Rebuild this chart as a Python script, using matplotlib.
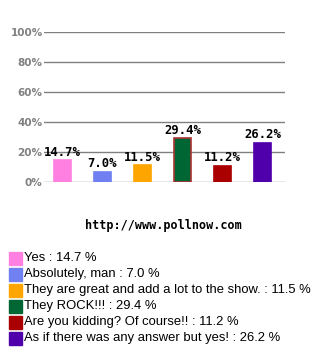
import matplotlib
matplotlib.use("Agg")
import matplotlib.pyplot as plt

answers = ['Yes', 'Absolutely, man', 'They are great and add a lot to the show.',
           'They ROCK!!!', 'Are you kidding? Of course!!', 'As if there was any answer but yes!']
shares = [14.7, 7.0, 11.5, 29.4, 11.2, 26.2]
colors = ['#FF80E0', '#7080F0', '#FFA500', '#006633', '#AA0000', '#5000AA']
edges = ['#FF80E0', '#7080F0', '#FFA500', '#AA3333', '#AA0000', '#5000AA']
yticks = [0, 20, 40, 60, 80, 100]

W, H = 332, 352
fig = plt.figure(figsize=(W / 100, H / 100), dpi=100, facecolor='white')
ax = fig.add_axes([44 / W, 1 - 182.3 / H, 241 / W, 150 / H])

x = list(range(len(shares)))
ax.bar(x, shares, width=0.425, color=colors, edgecolor=edges, linewidth=1.2, zorder=2)
for xi, v in zip(x, shares):
    ax.text(xi, v + 1, f"{v:.1f}%", ha='center', va='bottom', fontsize=8.8,
            fontweight='bold', family='DejaVu Sans Mono', color='black', zorder=3)

ax.set_xlim(-0.4625, 5.5625)
ax.set_ylim(0, 100)
ax.set_yticks(yticks)
ax.set_yticklabels([f"{t}%" for t in yticks], fontsize=7.5, fontweight='bold',
                   color='#808080', family='DejaVu Sans')
ax.tick_params(axis='y', length=0, pad=1)
ax.set_xticks([])
for t in yticks:
    ax.axhline(t, color='#808080', lw=1, zorder=1)
for s in ax.spines.values():
    s.set_visible(False)

fig.text(163 / W, 1 - 226 / H, "http://www.pollnow.com", ha='center', va='center',
         fontsize=8.5, fontweight='bold', family='DejaVu Sans Mono')

for i, (a, v, c) in enumerate(zip(answers, shares, colors)):
    yc = 258 + 16 * i
    fig.patches.append(plt.Rectangle((9 / W, 1 - (yc + 6.5) / H), 13 / W, 13 / H,
                                     transform=fig.transFigure, color=c))
    fig.text(24 / W, 1 - yc / H, f"{a} : {v:.1f} %", ha='left', va='center',
             fontsize=9.4, family='Liberation Sans')

fig.savefig("out.png", dpi=100, facecolor='white')
